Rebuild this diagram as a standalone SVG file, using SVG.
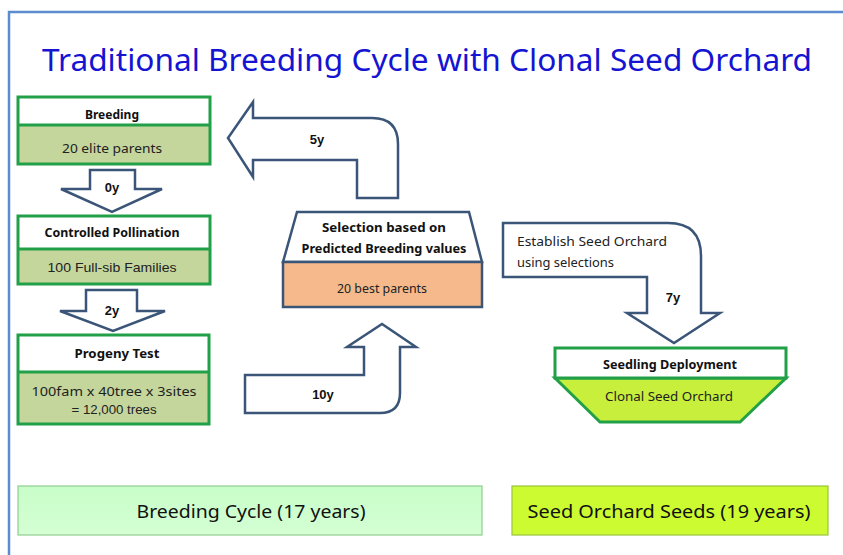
<svg xmlns="http://www.w3.org/2000/svg" width="843" height="555" viewBox="0 0 843 555">
<defs>
<style>
.frame{fill:none;stroke:#5a8ccf;stroke-width:2.5}
.title{font-family:"Noto Sans","DejaVu Sans",sans-serif;font-size:30px;fill:#1414d2}
.gbox{stroke:#22a048;stroke-width:3}
.hdr{fill:#ffffff}
.olive{fill:#c4d69c}
.hd{font-family:"Noto Sans","DejaVu Sans",sans-serif;font-size:12px;font-weight:bold;fill:#111;text-anchor:middle}
.bd{font-family:"Noto Sans","DejaVu Sans",sans-serif;font-size:13px;fill:#222;text-anchor:middle}
.ar{font-family:"Liberation Sans",Arial,sans-serif;font-size:13px;fill:#222;text-anchor:middle}
.arb{font-family:"Liberation Sans",Arial,sans-serif;font-size:13px;font-weight:bold;fill:#111;text-anchor:middle}
.blk{fill:#ffffff;stroke:#3a5577;stroke-width:2.5;stroke-linejoin:miter}
.big{font-family:"Noto Sans","DejaVu Sans",sans-serif;font-size:18px;fill:#111;text-anchor:middle}
</style>
<linearGradient id="lg1" x1="0" y1="0" x2="0" y2="1">
<stop offset="0" stop-color="#c8fdc8"/><stop offset="1" stop-color="#d4ffd4"/>
</linearGradient>
</defs>
<rect width="843" height="555" fill="#ffffff"/>
<rect class="frame" x="9" y="12" width="900" height="600"/>
<text class="title" x="42" y="71" textLength="770" lengthAdjust="spacingAndGlyphs">Traditional Breeding Cycle with Clonal Seed Orchard</text>

<g id="connectors">
<path class="blk" d="M90,170 L135,170 L135,189 L162,189 L112,212 L61,189 L90,189 Z"/>
<text class="arb" x="112" y="192">0y</text>
<path class="blk" d="M86,290 L137,290 L137,311 L165,311 L113,331 L60,311 L86,311 Z"/>
<text class="arb" x="112" y="315">2y</text>
<path class="blk" d="M228,138 L253,102 L253,118 L372,118 Q398,118 398,144 L398,198 L357,198 L357,160 L253,160 L253,177 Z"/>
<text class="arb" x="317" y="144">5y</text>
<path class="blk" d="M245,375 L364,375 L364,347 L347,347 L382,324 L416,347 L400,347 L400,393 Q400,413 380,413 L245,413 Z"/>
<text class="arb" x="323" y="399">10y</text>
<path class="blk" d="M503,223 L668,223 Q701,223 701,256 L701,313 L720,313 L674,343 L627,313 L647,313 L647,277 L503,277 Z"/>
<text class="arb" x="673" y="302">7y</text>
<text x="517" y="246" font-family="Noto Sans,DejaVu Sans,sans-serif" font-size="13" fill="#222" textLength="150" lengthAdjust="spacingAndGlyphs">Establish Seed Orchard</text>
<text x="517" y="267" font-family="Noto Sans,DejaVu Sans,sans-serif" font-size="13" fill="#222" textLength="97" lengthAdjust="spacingAndGlyphs">using selections</text>
</g>

<g id="breeding">
<rect class="olive" x="18" y="97" width="192" height="67"/>
<rect class="hdr" x="18" y="97" width="192" height="28"/>
<line class="gbox" x1="18" y1="125" x2="210" y2="125"/>
<rect class="gbox" x="18" y="97" width="192" height="67" fill="none"/>
<text class="hd" x="112" y="119" textLength="54" lengthAdjust="spacingAndGlyphs">Breeding</text>
<text class="bd" x="112" y="153" textLength="100" lengthAdjust="spacingAndGlyphs">20 elite parents</text>
</g>

<g id="pollination">
<rect class="olive" x="18" y="216" width="192" height="68"/>
<rect class="hdr" x="18" y="216" width="192" height="33"/>
<line class="gbox" x1="18" y1="249" x2="210" y2="249"/>
<rect class="gbox" x="18" y="216" width="192" height="68" fill="none"/>
<text class="hd" x="112" y="237" textLength="135" lengthAdjust="spacingAndGlyphs">Controlled Pollination</text>
<text class="ar" x="112" y="272" textLength="129" lengthAdjust="spacingAndGlyphs">100 Full-sib Families</text>
</g>

<g id="progeny">
<rect class="olive" x="18" y="335" width="191" height="89"/>
<rect class="hdr" x="18" y="335" width="191" height="37"/>
<line class="gbox" x1="18" y1="372" x2="209" y2="372"/>
<rect class="gbox" x="18" y="335" width="191" height="89" fill="none"/>
<text class="hd" x="117" y="358" textLength="85" lengthAdjust="spacingAndGlyphs">Progeny Test</text>
<text class="bd" x="114" y="396" textLength="165" lengthAdjust="spacingAndGlyphs">100fam x 40tree x 3sites</text>
<text class="ar" x="114" y="414" textLength="85" lengthAdjust="spacingAndGlyphs">= 12,000 trees</text>
</g>

<g id="selection">
<path d="M297,212 L469,212 L482,262 L283,262 Z" fill="#ffffff" stroke="#3a5577" stroke-width="2.5"/>
<rect x="283" y="262" width="199" height="45" fill="#f6b98b" stroke="#3a5577" stroke-width="2.5"/>
<text class="hd" x="384" y="232" textLength="124" lengthAdjust="spacingAndGlyphs">Selection based on</text>
<text class="hd" x="384" y="253" textLength="165" lengthAdjust="spacingAndGlyphs">Predicted Breeding values</text>
<text class="bd" x="382" y="293" font-size="12" textLength="90" lengthAdjust="spacingAndGlyphs">20 best parents</text>
</g>

<g id="seedling">
<path d="M555,378 L786,378 L740,422 L600,422 Z" fill="#c8ef3c" stroke="#22a048" stroke-width="3"/>
<rect x="555" y="348" width="231" height="30" fill="#ffffff" stroke="#22a048" stroke-width="3"/>
<text class="hd" x="670" y="369" textLength="134" lengthAdjust="spacingAndGlyphs">Seedling Deployment</text>
<text class="bd" x="669" y="401" fill="#1e3a10" textLength="128" lengthAdjust="spacingAndGlyphs">Clonal Seed Orchard</text>
</g>

<g id="breeding-cycle">
<rect x="18" y="486" width="464" height="49" fill="url(#lg1)" stroke="#8fce8f" stroke-width="1.2"/>
<text class="big" x="251" y="518" textLength="229" lengthAdjust="spacingAndGlyphs">Breeding Cycle (17 years)</text>
</g>

<g id="seed-orchard-seeds">
<rect x="512" y="486" width="316" height="49" fill="#ccfb32" stroke="#99c43a" stroke-width="1.2"/>
<text class="big" x="669" y="518" textLength="283" lengthAdjust="spacingAndGlyphs">Seed Orchard Seeds (19 years)</text>
</g>
</svg>
